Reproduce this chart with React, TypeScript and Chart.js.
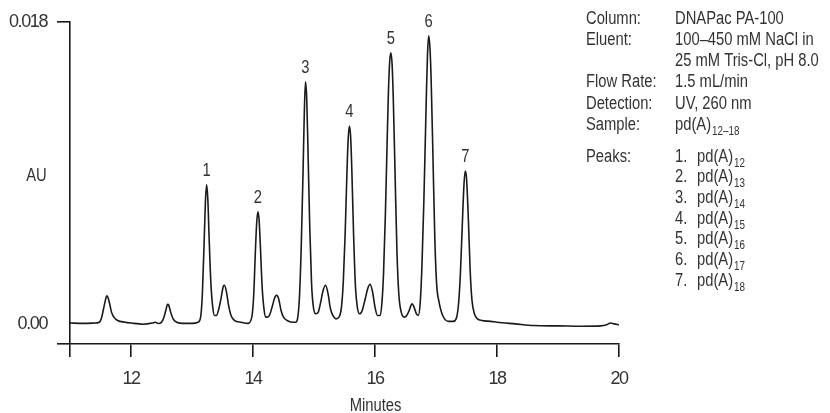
import React, { useEffect, useRef } from 'react';
import { Chart, registerables } from 'chart.js';

Chart.register(...registerables);

const FONT = "'Liberation Sans', Arial, sans-serif";
const NARROW = 0.82;
const TEXT_COLOR = '#333';
const LINE_COLOR = '#1a1a1a';

// Retention time (minutes)
const timeMin = [
  11.0, 11.2, 11.4, 11.48, 11.52, 11.55, 11.58, 11.6, 11.62, 11.65, 11.68, 11.72, 11.78, 11.9,
  12.0, 12.2, 12.35, 12.4, 12.45, 12.5, 12.54, 12.57, 12.6, 12.62, 12.65, 12.69, 12.75, 12.85, 13.0,
  13.1, 13.14, 13.17, 13.2, 13.22, 13.24, 13.26, 13.28, 13.31, 13.34, 13.37, 13.4,
  13.44, 13.48, 13.51, 13.53, 13.56, 13.6, 13.64, 13.7, 13.8, 13.92,
  13.98, 14.01, 14.04, 14.06, 14.08, 14.1, 14.12, 14.15, 14.18, 14.21, 14.24,
  14.28, 14.32, 14.36, 14.39, 14.42, 14.46, 14.5, 14.56, 14.64, 14.7,
  14.73, 14.76, 14.79, 14.82, 14.84, 14.86, 14.88, 14.9, 14.93, 14.96, 14.99, 15.03,
  15.07, 15.11, 15.15, 15.19, 15.23, 15.27, 15.31, 15.36, 15.41,
  15.45, 15.48, 15.51, 15.54, 15.56, 15.58, 15.6, 15.62, 15.65, 15.68, 15.71, 15.75,
  15.79, 15.84, 15.88, 15.92, 15.96, 16.0, 16.04, 16.08,
  16.11, 16.14, 16.17, 16.2, 16.22, 16.24, 16.26, 16.28, 16.3, 16.33, 16.36, 16.39, 16.43, 16.48,
  16.52, 16.56, 16.59, 16.61, 16.64, 16.68, 16.71,
  16.74, 16.77, 16.8, 16.82, 16.84, 16.86, 16.88, 16.9, 16.92, 16.95, 16.98, 17.01, 17.05, 17.09, 17.14, 17.2, 17.28,
  17.33, 17.37, 17.4, 17.43, 17.46, 17.48, 17.5, 17.53, 17.56, 17.59, 17.63, 17.68, 17.75, 17.9,
  18.0, 18.3, 18.6, 19.0, 19.4, 19.7, 19.8, 19.86, 19.92, 20.0,
];

// Detector response (AU)
const absorbance = [
  0.00005, 0.00003, 0.00005, 0.0001, 0.0004, 0.0009, 0.0014, 0.00167, 0.0016, 0.0012, 0.0007, 0.0004, 0.0002, 0.0001,
  0.00005, -0.00002, 0.00005, 0.0001, 0.00002, 0.0001, 0.0004, 0.0008, 0.00116, 0.0011, 0.0007, 0.0003, 0.0001, 0.00003, 0.00003,
  0.0001, 0.00037, 0.0018, 0.005, 0.0073, 0.0083, 0.0074, 0.0052, 0.0024, 0.001, 0.0005, 0.0005,
  0.0009, 0.0016, 0.0022, 0.0023, 0.002, 0.0011, 0.0005, 0.0002, 0.0001, 0.00003,
  0.0004, 0.0016, 0.0044, 0.006, 0.00668, 0.0062, 0.0047, 0.0022, 0.0009, 0.0004, 0.0004,
  0.0006, 0.0011, 0.0016, 0.0017, 0.0015, 0.0008, 0.0004, 0.0002, 0.0001, 0.0001,
  0.0003, 0.0015, 0.0045, 0.009, 0.0124, 0.01444, 0.0135, 0.0106, 0.0058, 0.0024, 0.001, 0.0006,
  0.0007, 0.0013, 0.002, 0.0023, 0.0018, 0.0009, 0.0005, 0.0003, 0.0004,
  0.001, 0.0025, 0.0053, 0.009, 0.011, 0.0118, 0.0112, 0.0092, 0.0052, 0.0022, 0.001, 0.0006,
  0.0008, 0.0015, 0.0021, 0.00236, 0.0019, 0.001, 0.0005, 0.0005,
  0.0011, 0.003, 0.0065, 0.011, 0.0138, 0.0156, 0.01617, 0.0155, 0.0134, 0.0088, 0.0043, 0.0018, 0.0007, 0.0004,
  0.0005, 0.0008, 0.0011, 0.0012, 0.001, 0.0006, 0.0005,
  0.0012, 0.0035, 0.0072, 0.0102, 0.0133, 0.016, 0.01717, 0.0165, 0.0146, 0.01, 0.0052, 0.0024, 0.0013, 0.0007, 0.0003, 0.00015, 0.00015,
  0.0003, 0.0012, 0.003, 0.0058, 0.0084, 0.00912, 0.0087, 0.0063, 0.0032, 0.0014, 0.0006, 0.0003, 0.0002, 0.00015,
  0.0001, 0.0, -0.0001, -0.00012, -0.00014, -0.00012, -0.00005, 0.00005, 0.0, -0.00005,
];

const xTickValues = [11, 12, 14, 16, 18, 20];
const yTickValues = [-0.0012, 0, 0.018];
const yTickLabels = ['', '0.00', '0.018'];

const peakNumbers = ['1', '2', '3', '4', '5', '6', '7'];
const peakTimes = [13.24, 14.08, 14.86, 15.58, 16.26, 16.88, 17.48];

const infoLabels = ['Column:', 'Eluent:', '', 'Flow Rate:', 'Detection:', 'Sample:'];
const infoValues = ['DNAPac PA-100', '100–450 mM NaCl in', '25 mM Tris-Cl, pH 8.0', '1.5 mL/min', 'UV, 260 nm', 'pd(A)'];
const infoSubscripts = ['', '', '', '', '', '12–18'];
const peaksHeading = 'Peaks:';
const peakCompounds = ['pd(A)', 'pd(A)', 'pd(A)', 'pd(A)', 'pd(A)', 'pd(A)', 'pd(A)'];
const peakSubscripts = ['12', '13', '14', '15', '16', '17', '18'];
const yTitle = 'AU';
const xTitle = 'Minutes';

function narrowText(ctx: any, text: string, x: number, y: number, size: number, align: string) {
  ctx.save();
  ctx.font = `${size}px ${FONT}`;
  ctx.translate(x, y);
  ctx.scale(NARROW, 1);
  ctx.textAlign = align;
  ctx.textBaseline = 'alphabetic';
  ctx.fillText(text, 0, 0);
  const w = ctx.measureText(text).width * NARROW;
  ctx.restore();
  return w;
}

const textPlugin = {
  id: 'chromText',
  beforeDraw(chart: any) {
    try {
      chart.ctx.letterSpacing = '-1.4px';
    } catch (e) {}
  },
  afterDraw(chart: any) {
    const ctx = chart.ctx;
    try {
      ctx.letterSpacing = '0px';
    } catch (e) {}
    const xs = chart.scales.x;
    const ys = chart.scales.y;
    ctx.save();
    ctx.fillStyle = TEXT_COLOR;

    // axis titles
    narrowText(ctx, yTitle, 36.5, 180.5, 18, 'center');
    narrowText(ctx, xTitle, 375.5, 411, 18, 'center');

    // peak numbers
    peakTimes.forEach((t, i) => {
      let best = -Infinity;
      timeMin.forEach((tt, j) => {
        if (Math.abs(tt - t) < 0.03 && absorbance[j] > best) best = absorbance[j];
      });
      const px = xs.getPixelForValue(t);
      const py = ys.getPixelForValue(best);
      narrowText(ctx, peakNumbers[i], px, py - 9, 18, 'center');
    });

    // conditions panel
    const L = 586;
    const V = 675;
    const drawSub = (main: string, sub: string, x: number, y: number) => {
      const w = narrowText(ctx, main, x, y, 18, 'left');
      if (sub) narrowText(ctx, sub, x + w + 1, y + 5, 12, 'left');
    };
    const top0 = 23.5;
    const step = 21.3;
    infoLabels.forEach((lab, i) => {
      const y = top0 + i * step;
      if (lab) narrowText(ctx, lab, L, y, 18, 'left');
      drawSub(infoValues[i], infoSubscripts[i], V, y);
    });
    const p0 = 161.5;
    const pstep = 20.7;
    narrowText(ctx, peaksHeading, L, p0, 18, 'left');
    peakCompounds.forEach((c, i) => {
      const y = p0 + i * pstep;
      narrowText(ctx, `${i + 1}.`, V, y, 18, 'left');
      drawSub(c, peakSubscripts[i], V + 22, y);
    });
    ctx.restore();
  },
};

export default function App() {
  const ref = useRef<HTMLCanvasElement | null>(null);
  useEffect(() => {
    if (!ref.current) return;
    const points = timeMin.map((t, i) => ({ x: t, y: absorbance[i] }));
    const chart = new Chart(ref.current, {
      type: 'line',
      data: {
        datasets: [
          {
            data: points,
            borderColor: LINE_COLOR,
            borderWidth: 1.6,
            pointRadius: 0,
            fill: false,
            cubicInterpolationMode: 'monotone',
          },
        ],
      },
      options: {
        animation: false,
        responsive: false,
        devicePixelRatio: 1,
        layout: { padding: { left: 0, top: 22, right: 211, bottom: 0 } },
        plugins: { legend: { display: false }, tooltip: { enabled: false }, title: { display: false } },
        scales: {
          x: {
            type: 'linear',
            min: 11,
            max: 20,
            afterBuildTicks: (s: any) => {
              s.ticks = xTickValues.map((v) => ({ value: v }));
            },
            afterFit: (s: any) => {
              s.height = 69;
            },
            ticks: {
              autoSkip: false,
              maxRotation: 0,
              padding: 11,
              color: TEXT_COLOR,
              font: { family: FONT, size: 18 },
              callback: (v: any) => (v === 11 ? '' : String(v)),
            },
            grid: { drawOnChartArea: false, drawTicks: true, tickLength: 13, color: LINE_COLOR, lineWidth: 1.6 },
            border: { display: true, color: LINE_COLOR, width: 1.6 },
          },
          y: {
            type: 'linear',
            min: -0.0012,
            max: 0.018,
            afterBuildTicks: (s: any) => {
              s.ticks = yTickValues.map((v) => ({ value: v }));
            },
            afterFit: (s: any) => {
              s.width = 70;
            },
            ticks: {
              autoSkip: false,
              padding: 10,
              color: TEXT_COLOR,
              font: { family: FONT, size: 18 },
              callback: (_v: any, i: number) => yTickLabels[i],
            },
            grid: {
              drawOnChartArea: false,
              drawTicks: true,
              tickLength: 13,
              lineWidth: 1.6,
              color: (c: any) => (c.tick && c.tick.value === 0 ? 'rgba(0,0,0,0)' : LINE_COLOR),
            },
            border: { display: true, color: LINE_COLOR, width: 1.6 },
          },
        },
      },
      plugins: [textPlugin],
    } as any);
    return () => chart.destroy();
  }, []);
  return (
    <div style={{ position: 'fixed', left: 0, top: 0, width: 830, height: 413, background: '#fff' }}>
      <canvas ref={ref} width={830} height={413} style={{ display: 'block' }} />
    </div>
  );
}
